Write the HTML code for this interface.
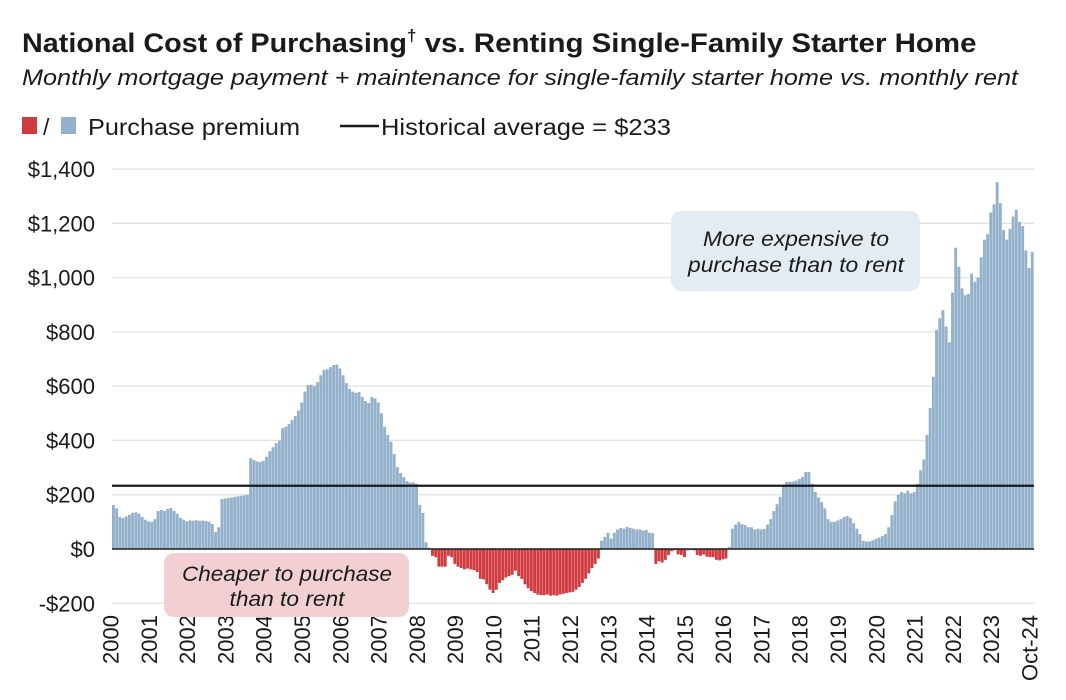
<!DOCTYPE html>
<html><head><meta charset="utf-8"><style>
body{margin:0;background:#fff;width:1066px;height:700px;overflow:hidden;font-family:"Liberation Sans",sans-serif;}
svg{position:absolute;left:0;top:0}
</style></head><body>
<svg id="chart" width="1066" height="700">
<text x="22" y="52" font-size="27" font-weight="bold" fill="#1a1a1a"><tspan textLength="385" lengthAdjust="spacingAndGlyphs">National Cost of Purchasing</tspan><tspan font-size="17" dy="-11">†</tspan><tspan dy="11" textLength="560" lengthAdjust="spacingAndGlyphs"> vs. Renting Single-Family Starter Home</tspan></text>
<text x="22" y="85" font-size="22" font-style="italic" fill="#1a1a1a" textLength="996" lengthAdjust="spacingAndGlyphs">Monthly mortgage payment + maintenance for single-family starter home vs. monthly rent</text>
<g>
<rect x="22" y="117" width="15" height="17" fill="#cf3b3f"/>
<text x="43" y="135" font-size="23" fill="#1a1a1a">/</text>
<rect x="61" y="117" width="15" height="17" fill="#94b1cb"/>
<text x="88" y="135" font-size="23" fill="#1a1a1a" textLength="212" lengthAdjust="spacingAndGlyphs">Purchase premium</text>
<line x1="340" y1="126" x2="379" y2="126" stroke="#1a1a1a" stroke-width="2.5"/>
<text x="381" y="135" font-size="23" fill="#1a1a1a" textLength="290" lengthAdjust="spacingAndGlyphs">Historical average = $233</text>
</g>
<g id="grid"></g><g id="bars"></g><g id="axes"></g>
<g>
<rect x="671" y="211" width="249" height="80" rx="10" fill="#e2eaf2" opacity="0.95"/>
<text x="796" y="246" font-size="21" font-style="italic" fill="#1a1a1a" text-anchor="middle" textLength="186" lengthAdjust="spacingAndGlyphs">More expensive to</text>
<text x="796" y="272" font-size="21" font-style="italic" fill="#1a1a1a" text-anchor="middle" textLength="216" lengthAdjust="spacingAndGlyphs">purchase than to rent</text>
</g>
<g>
<rect x="164" y="553" width="245" height="64" rx="10" fill="#f1cfd2"/>
<text x="287" y="581" font-size="21" font-style="italic" fill="#1a1a1a" text-anchor="middle" textLength="210" lengthAdjust="spacingAndGlyphs">Cheaper to purchase</text>
<text x="287" y="606" font-size="21" font-style="italic" fill="#1a1a1a" text-anchor="middle" textLength="115" lengthAdjust="spacingAndGlyphs">than to rent</text>
</g>
</svg>
<script>
const values = [
162,150,118,114,120,126,133,135,130,118,108,102,
100,110,140,144,140,148,151,140,130,115,108,102,
105,104,106,104,105,103,100,92,63,80,184,186,
188,190,192,194,196,198,200,335,328,322,320,325,
340,360,375,390,400,445,450,460,475,490,510,540,
580,604,605,600,615,640,660,662,670,678,680,665,
640,611,590,580,575,578,560,545,538,560,555,540,
500,450,420,395,350,302,280,265,250,245,245,240,
162,133,25,5,-25,-30,-65,-65,-65,-25,-30,-55,
-65,-70,-75,-72,-75,-78,-85,-110,-112,-130,-150,-162,
-150,-125,-115,-105,-100,-95,-80,-100,-110,-130,-145,-155,
-162,-168,-170,-170,-168,-172,-170,-172,-168,-165,-162,-160,
-158,-150,-140,-125,-110,-90,-70,-55,-35,30,44,60,
38,60,72,78,75,82,78,75,72,72,68,70,
60,58,-55,-45,-50,-40,-22,-8,-4,-20,-22,-30,
-5,-3,-5,-22,-25,-20,-28,-30,-30,-40,-42,-38,
-35,8,75,90,100,92,88,80,80,72,75,72,
74,90,110,140,165,192,230,247,248,248,252,258,
265,284,284,240,210,190,173,150,110,100,100,105,
110,118,122,115,95,75,55,30,28,28,32,38,
42,48,55,80,125,175,200,210,205,215,205,210,
240,290,330,420,520,635,807,850,880,820,762,945,
1110,1040,960,935,940,1015,985,1000,1075,1140,1160,1240,
1270,1352,1275,1175,1140,1180,1225,1250,1205,1190,1100,1035,
1095];
const xLabels = ["2000","2001","2002","2003","2004","2005","2006","2007","2008","2009","2010","2011","2012","2013","2014","2015","2016","2017","2018","2019","2020","2021","2022","2023","Oct-24"];
const yTicks = [-200,0,200,400,600,800,1000,1200,1400];
const historicalAverage = 233;

const NS="http://www.w3.org/2000/svg";
const X0=112, X1=1034;
const bw=(X1-X0)/values.length;
function xPos(i){return X0+i*bw;}
function yPos(v){return 549 - v*0.2714;}
function mk(tag,attrs,parent){const e=document.createElementNS(NS,tag);for(const k in attrs)e.setAttribute(k,attrs[k]);parent.appendChild(e);return e;}
const grid=document.getElementById('grid'),bars=document.getElementById('bars'),axes=document.getElementById('axes');
yTicks.forEach(t=>{
  if(t!==0){const l=mk('line',{x1:X0,x2:X1,y1:yPos(t),y2:yPos(t),stroke:'#e3e3e3','stroke-width':1.3},grid);
  
  }
  const lab=mk('text',{x:95,y:yPos(t)+8,'font-size':22,'text-anchor':'end',fill:'#1a1a1a'},axes);
  lab.textContent=(t<0?'-$':'$')+Math.abs(t).toLocaleString('en-US');
  
  
});
values.forEach((v,i)=>{
  const y=yPos(Math.max(v,0)),h=Math.abs(yPos(v)-yPos(0));
  const r=mk('rect',{x:xPos(i),y:y,width:bw-0.3,height:h,fill:v>=0?'#94b1cb':'#cf3b3f'},bars);
  
  
});
const z=mk('line',{x1:X0,x2:X1,y1:yPos(0),y2:yPos(0),stroke:'#1a1a1a','stroke-width':1.5},axes);


const avg=mk('line',{x1:X0,x2:X1,y1:yPos(historicalAverage),y2:yPos(historicalAverage),stroke:'#1a1a1a','stroke-width':2.2},axes);


xLabels.forEach((s,k)=>{
  const cx=xPos(k*12)+bw/2+5;
  const t=mk('text',{x:0,y:0,'font-size':22,'text-anchor':'end',fill:'#1a1a1a',transform:`translate(${cx},615) rotate(-90)`},axes);
  t.textContent=s;
  
  
});
</script>
</body></html>
